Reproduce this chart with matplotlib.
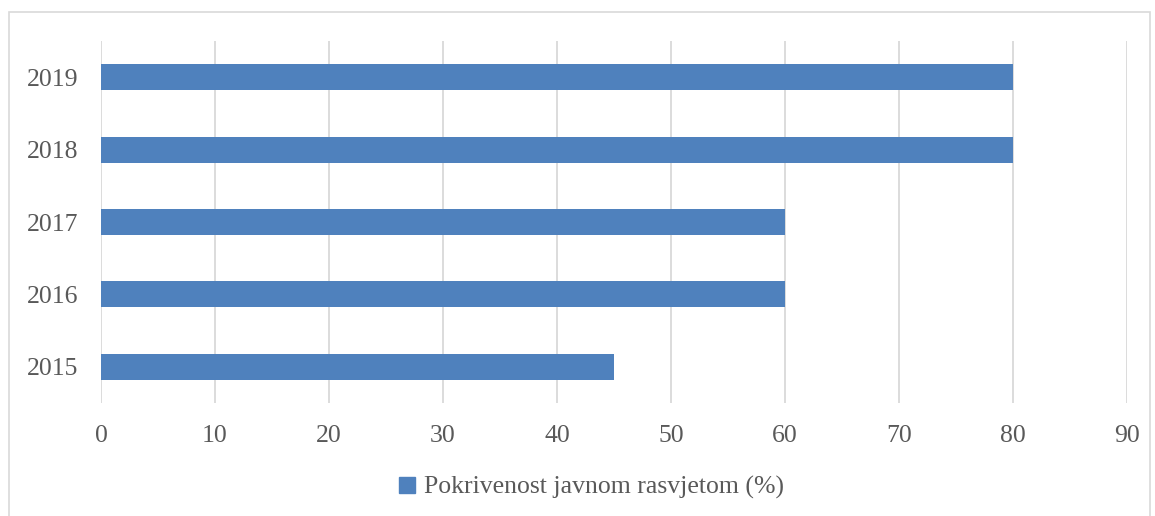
import matplotlib.pyplot as plt
from matplotlib.patches import Rectangle, Patch

years = ["2015", "2016", "2017", "2018", "2019"]
coverage = [45, 60, 60, 80, 80]
x_ticks = [0, 10, 20, 30, 40, 50, 60, 70, 80, 90]
series_name = "Pokrivenost javnom rasvjetom (%)"

BAR_COLOR = "#4F81BD"
GRID_COLOR = "#D9D9D9"
TEXT_COLOR = "#595959"

plt.rcParams["font.family"] = ["Liberation Serif", "DejaVu Serif"]

fig = plt.figure(figsize=(11.55, 5.16), dpi=100)
ax = fig.add_axes([0.0874, 0.219, 0.8884, 0.7015])

# bars
ax.barh(range(len(years)), coverage, height=0.36, color=BAR_COLOR, zorder=3)

ax.set_xlim(0, 90)
ax.set_ylim(-0.5, len(years) - 0.5)
ax.set_xticks(x_ticks)
ax.set_yticks(range(len(years)))
ax.set_yticklabels(years)
ax.grid(axis="x", color=GRID_COLOR, linewidth=1.3, zorder=0)
ax.tick_params(axis="both", length=0, labelsize=18.5, colors=TEXT_COLOR)
ax.tick_params(axis="x", pad=16)
ax.tick_params(axis="y", pad=16)
for spine in ax.spines.values():
    spine.set_visible(False)

# legend at bottom
handle = Patch(color=BAR_COLOR)
fig.legend([handle], [series_name], loc="center", bbox_to_anchor=(0.512, 0.055),
           frameon=False, fontsize=18.5, labelcolor=TEXT_COLOR,
           handlelength=0.6, handleheight=0.6, handletextpad=0.35)

# chart area border
fig.patches.append(Rectangle((9 / 1155, -0.01), 1141 / 1155, 1 - 12 / 516 + 0.01,
                             transform=fig.transFigure, fill=False,
                             edgecolor=GRID_COLOR, linewidth=1.2))

fig.savefig("out.png", dpi=100)
